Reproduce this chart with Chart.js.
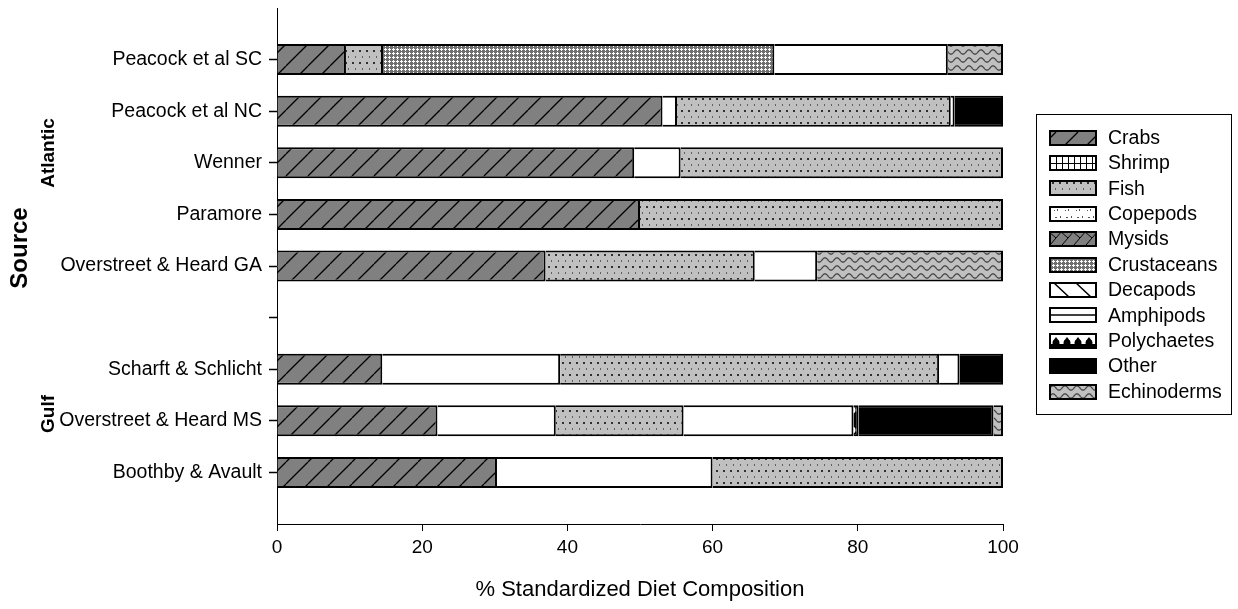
<!DOCTYPE html>
<html>
<head>
<meta charset="utf-8">
<title>Diet composition</title>
<script src="https://cdn.jsdelivr.net/npm/chart.js@4/dist/chart.umd.min.js"></script>
<style>
	body { margin: 0; background: #fff; }
	canvas { display: block; }
</style>
</head>
<body>
<canvas id="dietChart" width="1238" height="609"></canvas>
<script>
// categories, top to bottom ('' = empty slot)
const categories = [
	"",
	"Peacock et al SC",
	"Peacock et al NC",
	"Wenner",
	"Paramore",
	"Overstreet & Heard GA",
	"",
	"Scharft & Schlicht",
	"Overstreet & Heard MS",
	"Boothby & Avault",
	"",
];

// % of diet per prey group
const crabs = [null, 9.5, 53.1, 49.2, 50.0, 37.0, null, 14.5, 22.1, 30.3, null];
const shrimp = [null, null, null, null, null, null, null, null, null, null, null];
const decapods = [null, null, 2.0, 6.4, null, null, null, 24.5, 16.3, 29.7, null];
const fish = [null, 5.1, 37.7, 44.4, 50.0, 28.8, null, 52.2, 17.6, 40.0, null];
const copepods = [null, null, null, null, null, null, null, null, null, null, null];
const mysids = [null, null, null, null, null, null, null, null, null, null, null];
const crustaceans = [null, 53.9, null, null, null, null, null, null, null, null, null];
const amphipods = [null, 23.9, 0.5, null, null, 8.6, null, 2.8, 23.4, null, null];
const polychaetes = [null, null, null, null, null, null, null, null, 0.7, null, null];
const other = [null, null, 6.7, null, null, null, null, 6.0, 18.6, null, null];
const echinoderms = [null, 7.6, null, null, null, 25.6, null, null, 1.3, null, null];

const legendOrder = [
	"Crabs", "Shrimp", "Fish", "Copepods", "Mysids", "Crustaceans",
	"Decapods", "Amphipods", "Polychaetes", "Other", "Echinoderms",
];
const xTicks = [0, 20, 40, 60, 80, 100];
const regions = ["Atlantic", "Gulf"];

const FONT = "'Liberation Sans', Arial, sans-serif";

const canvas = document.getElementById("dietChart");
const ctx = canvas.getContext("2d");

function makePattern(w, h, draw) {
	const c = document.createElement("canvas");
	c.width = w;
	c.height = h;
	draw(c.getContext("2d"), w, h);
	return ctx.createPattern(c, "repeat");
}

const crabFill = makePattern(22, 22, (g, w, h) => {
	g.fillStyle = "#808080";
	g.fillRect(0, 0, w, h);
	g.strokeStyle = "#000";
	g.lineWidth = 1.3;
	for (const off of [-w, 0, w]) {
		g.beginPath();
		g.moveTo(off, h);
		g.lineTo(off + w, 0);
		g.stroke();
	}
});

const fishFill = makePattern(7, 12, (g, w, h) => {
	g.fillStyle = "#c0c0c0";
	g.fillRect(0, 0, w, h);
	g.fillStyle = "#303030";
	g.fillRect(2, 2, 2, 2);
	g.fillStyle = "#606060";
	g.fillRect(5, 8, 1, 2);
});

// white plus marks on grey
const crustFill = makePattern(4, 4, (g, w, h) => {
	g.fillStyle = "#707070";
	g.fillRect(0, 0, w, h);
	g.fillStyle = "#fff";
	g.fillRect(0, 1, 3, 1);
	g.fillRect(1, 0, 1, 3);
});

const echinoFill = makePattern(12, 8, (g, w, h) => {
	g.fillStyle = "#c0c0c0";
	g.fillRect(0, 0, w, h);
	g.strokeStyle = "#404040";
	g.lineWidth = 1.2;
	g.beginPath();
	for (let x = -1; x <= w + 1; x += 0.5) {
		const y = 4 + 2.2 * Math.sin((2 * Math.PI * x) / w);
		if (x === -1) g.moveTo(x, y);
		else g.lineTo(x, y);
	}
	g.stroke();
});

const polyFill = makePattern(8, 20, (g, w, h) => {
	g.fillStyle = "#000";
	g.fillRect(0, 0, w, h);
	g.fillStyle = "#fff";
	g.beginPath();
	g.arc(4, 10, 3.5, 0, Math.PI * 2);
	g.fill();
});

const mysidFill = makePattern(12, 14, (g, w, h) => {
	g.fillStyle = "#808080";
	g.fillRect(0, 0, w, h);
	g.strokeStyle = "#000";
	g.lineWidth = 1;
	g.beginPath();
	g.moveTo(0, h);
	g.lineTo(w, 0);
	g.moveTo(4, h / 2);
	g.lineTo(w, h);
	g.stroke();
});

function dataset(label, data, fill) {
	return {
		label: label,
		data: data,
		backgroundColor: fill,
		borderColor: "#000",
		borderWidth: 2,
	};
}

// stacking order (left to right inside a bar)
const datasets = [
	dataset("Crabs", crabs, crabFill),
	dataset("Shrimp", shrimp, "#fff"),
	dataset("Decapods", decapods, "#fff"),
	dataset("Fish", fish, fishFill),
	dataset("Copepods", copepods, "#fff"),
	dataset("Mysids", mysids, mysidFill),
	dataset("Crustaceans", crustaceans, crustFill),
	dataset("Amphipods", amphipods, "#fff"),
	dataset("Polychaetes", polychaetes, polyFill),
	dataset("Other", other, "#000"),
	dataset("Echinoderms", echinoderms, echinoFill),
];

function drawSwatch(c, name, x, y, w, h) {
	c.save();
	c.beginPath();
	c.rect(x, y, w, h);
	c.clip();
	c.fillStyle = "#fff";
	c.fillRect(x, y, w, h);
	c.strokeStyle = "#000";
	c.fillStyle = "#000";
	c.lineWidth = 1;
	if (name === "Crabs") {
		c.fillStyle = crabFill;
		c.fillRect(x, y, w, h);
	} else if (name === "Fish") {
		c.fillStyle = fishFill;
		c.fillRect(x, y, w, h);
	} else if (name === "Crustaceans") {
		c.fillStyle = crustFill;
		c.fillRect(x, y, w, h);
	} else if (name === "Echinoderms") {
		c.fillStyle = echinoFill;
		c.fillRect(x, y, w, h);
	} else if (name === "Mysids") {
		c.fillStyle = mysidFill;
		c.fillRect(x, y, w, h);
	} else if (name === "Other") {
		c.fillRect(x, y, w, h);
	} else if (name === "Shrimp") {
		c.beginPath();
		for (let k = 6; k < w; k += 6) {
			c.moveTo(x + k + 0.5, y);
			c.lineTo(x + k + 0.5, y + h);
		}
		c.moveTo(x, y + h / 2 + 0.5);
		c.lineTo(x + w, y + h / 2 + 0.5);
		c.stroke();
	} else if (name === "Copepods") {
		c.fillStyle = "#555";
		for (let k = 4; k < w; k += 11) {
			c.fillRect(x + k, y + 3, 1, 1);
			c.fillRect(x + k + 3, y + 2, 1, 2);
			c.fillRect(x + k + 6, y + 9, 1, 2);
			c.fillRect(x + k + 1, y + 10, 2, 1);
		}
	} else if (name === "Decapods") {
		c.lineWidth = 1.5;
		c.beginPath();
		c.moveTo(x + 4, y);
		c.lineTo(x + 19, y + h);
		c.moveTo(x + 26, y);
		c.lineTo(x + 41, y + h);
		c.stroke();
	} else if (name === "Amphipods") {
		c.lineWidth = 1.5;
		c.beginPath();
		c.moveTo(x, y + h / 2);
		c.lineTo(x + w, y + h / 2);
		c.stroke();
	} else if (name === "Polychaetes") {
		c.fillRect(x, y + h - 4, w, 4);
		for (let k = 6; k < w; k += 11) {
			c.beginPath();
			c.arc(x + k, y + h - 5, 3.5, 0, Math.PI * 2);
			c.fill();
			c.beginPath();
			c.moveTo(x + k - 3, y + h - 7);
			c.lineTo(x + k, y + 3);
			c.lineTo(x + k + 3, y + h - 7);
			c.fill();
		}
	}
	c.restore();
	c.strokeStyle = "#000";
	c.lineWidth = 2;
	c.strokeRect(x, y, w, h);
}

const extras = {
	id: "extras",
	afterDraw(chart) {
		const c = chart.ctx;
		c.save();
		c.fillStyle = "#000";
		c.textBaseline = "middle";
		c.textAlign = "center";

		// axis title and region labels, rotated
		const rotated = [
			["Source", 20, 248, "bold 24px " + FONT],
			[regions[0], 49, 153, "bold 19px " + FONT],
			[regions[1], 49, 414, "bold 19px " + FONT],
		];
		rotated.forEach(([text, x, y, font]) => {
			c.save();
			c.translate(x, y);
			c.rotate(-Math.PI / 2);
			c.font = font;
			c.fillText(text, 0, 0);
			c.restore();
		});

		// legend
		c.lineWidth = 1;
		c.strokeStyle = "#000";
		c.strokeRect(1036.5, 114.5, 195, 300);
		c.textAlign = "left";
		c.font = "19.5px " + FONT;
		legendOrder.forEach((name, i) => {
			const cy = 137.5 + i * 25.4;
			drawSwatch(c, name, 1050, Math.round(cy - 7), 46, 14);
			c.fillStyle = "#000";
			c.fillText(name, 1108, cy + 1);
		});
		c.restore();
	},
};

// no tick marks at the two end slots of the category axis
const hiddenEnds = (context) =>
	context.index === 0 || context.index === categories.length - 1 ? "rgba(0,0,0,0)" : "#000";

new Chart(ctx, {
	type: "bar",
	data: {
		labels: categories,
		datasets: datasets,
	},
	options: {
		indexAxis: "y",
		responsive: false,
		animation: false,
		layout: {
			padding: { top: 8, right: 235, bottom: 0, left: 0 },
		},
		plugins: {
			legend: { display: false },
			tooltip: { enabled: false },
		},
		datasets: {
			bar: {
				categoryPercentage: 1,
				barPercentage: 0.6,
			},
		},
		scales: {
			x: {
				stacked: true,
				min: 0,
				max: 100,
				afterBuildTicks: (scale) => {
					scale.ticks = xTicks.map((v) => ({ value: v }));
				},
				afterFit: (scale) => {
					scale.height = 85;
				},
				border: { display: true, color: "#000", width: 1 },
				grid: {
					drawOnChartArea: false,
					drawTicks: true,
					tickLength: 7,
					tickColor: "#000",
				},
				ticks: {
					color: "#000",
					padding: 5,
					font: { family: FONT, size: 19 },
				},
				title: {
					display: true,
					text: "% Standardized Diet Composition",
					color: "#000",
					font: { family: FONT, size: 22 },
					padding: { top: 0, bottom: 6 },
				},
			},
			y: {
				stacked: true,
				offset: false,
				afterFit: (scale) => {
					scale.width = 277;
					scale.paddingTop = 0;
					scale.paddingBottom = 0;
				},
				border: { display: true, color: "#000", width: 1 },
				grid: {
					offset: false,
					drawOnChartArea: false,
					drawTicks: true,
					tickLength: 8,
					tickWidth: 1.5,
					tickColor: hiddenEnds,
				},
				ticks: {
					color: "#000",
					padding: 7,
					autoSkip: false,
					font: { family: FONT, size: 19.5 },
				},
			},
		},
	},
	plugins: [extras],
});
</script>
</body>
</html>
